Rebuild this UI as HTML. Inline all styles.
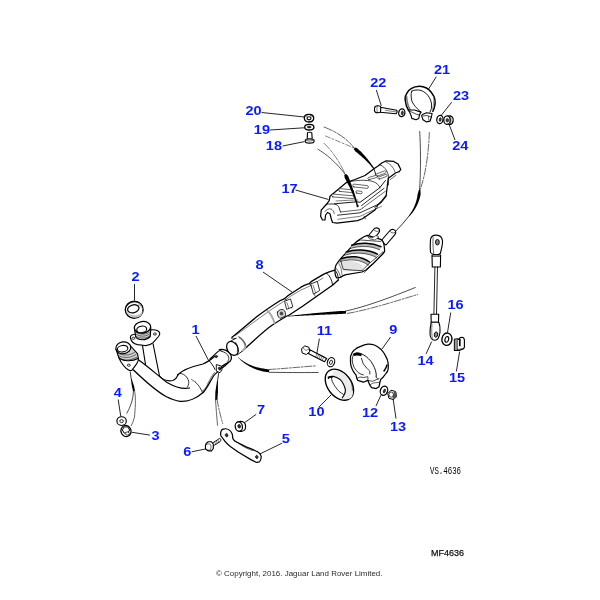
<!DOCTYPE html>
<html><head><meta charset="utf-8"><style>
html,body{margin:0;padding:0;background:#fff;}
svg{display:block;will-change:transform;}
.lb{font-family:"Liberation Sans",sans-serif;font-weight:bold;font-size:12.4px;fill:#0a1afc;text-anchor:middle;}

.mono{font-family:"Liberation Mono",monospace;font-size:10px;fill:#000;}
.cp{font-family:"Liberation Sans",sans-serif;font-size:8.1px;fill:#2a2a2a;}
</style></head><body>
<svg width="600" height="600" viewBox="0 0 600 600">
<rect width="600" height="600" fill="#fff"/>
<path d="M 288.22 316.45 L 289.49 316.38 L 290.77 316.31 L 292.06 316.24 L 293.37 316.18 L 294.68 316.11 L 296.01 316.04 L 297.34 315.97 L 298.69 315.90 L 300.05 315.83 L 301.41 315.76 L 302.79 315.69 L 304.18 315.62 L 305.57 315.56 L 306.98 315.49 L 308.39 315.42 L 309.82 315.35 L 311.25 315.28 L 312.69 315.22 L 314.14 315.15 L 315.60 315.09 L 317.06 315.01 L 318.53 314.94 L 320.01 314.87 L 321.50 314.80 L 322.99 314.73 L 324.49 314.67 L 326.00 314.60 L 327.51 314.53 L 329.03 314.47 L 330.55 314.40 L 332.08 314.34 L 333.62 314.28 L 335.16 314.22 L 336.71 314.16 L 338.26 314.10 L 339.82 314.04 L 341.37 313.90 L 342.93 313.77 L 344.50 313.63 L 346.07 313.50 L 345.93 310.90 L 344.35 310.94 L 342.78 310.97 L 341.21 311.01 L 339.65 311.04 L 338.09 311.16 L 336.54 311.29 L 335.00 311.41 L 333.45 311.53 L 331.92 311.66 L 330.39 311.78 L 328.87 311.91 L 327.35 312.04 L 325.84 312.17 L 324.33 312.30 L 322.84 312.43 L 321.35 312.56 L 319.86 312.69 L 318.38 312.82 L 316.92 312.96 L 315.45 313.09 L 314.00 313.23 L 312.56 313.37 L 311.12 313.51 L 309.69 313.66 L 308.27 313.80 L 306.86 313.94 L 305.46 314.09 L 304.07 314.23 L 302.69 314.37 L 301.32 314.52 L 299.96 314.66 L 298.60 314.80 L 297.26 314.95 L 295.93 315.09 L 294.61 315.24 L 293.30 315.38 L 292.00 315.52 L 290.72 315.67 L 289.44 315.81 L 288.18 315.95 Z" fill="#000" stroke="none"/>
<path d="M 345.5 311.1 C 365 307, 392 297, 415.3 287.5" fill="none" stroke="#000" stroke-width="0.7" stroke-linecap="round" />
<path d="M 347.5 313.4 C 370 309.5, 396 301, 417.7 294.5" fill="none" stroke="#000" stroke-width="0.6" stroke-linecap="round" stroke-dasharray="7 1.5 2 1.5"/>
<path d="M 238.16 357.64 L 238.72 358.23 L 239.29 358.80 L 239.87 359.37 L 240.46 359.92 L 241.06 360.46 L 241.67 360.99 L 242.29 361.52 L 242.92 362.03 L 243.56 362.53 L 244.21 363.02 L 244.88 363.50 L 245.55 363.96 L 246.23 364.42 L 246.93 364.87 L 247.63 365.30 L 248.35 365.73 L 249.08 366.14 L 249.81 366.54 L 250.57 366.93 L 251.33 367.31 L 252.10 367.69 L 252.88 368.05 L 253.67 368.41 L 254.48 368.75 L 255.29 369.08 L 256.12 369.40 L 256.96 369.70 L 257.82 370.00 L 258.68 370.29 L 259.56 370.56 L 260.45 370.82 L 261.35 371.07 L 262.27 371.31 L 263.19 371.53 L 264.14 371.69 L 265.10 371.84 L 266.07 371.97 L 267.06 372.09 L 268.05 372.20 L 269.05 372.29 L 269.35 369.51 L 268.38 369.38 L 267.43 369.25 L 266.49 369.10 L 265.57 368.94 L 264.65 368.77 L 263.75 368.59 L 262.85 368.45 L 261.96 368.31 L 261.08 368.15 L 260.21 367.98 L 259.35 367.80 L 258.50 367.61 L 257.66 367.41 L 256.83 367.19 L 256.01 366.97 L 255.20 366.73 L 254.40 366.48 L 253.61 366.22 L 252.82 365.95 L 252.05 365.66 L 251.29 365.36 L 250.53 365.05 L 249.79 364.72 L 249.05 364.38 L 248.33 364.03 L 247.61 363.67 L 246.90 363.30 L 246.20 362.91 L 245.51 362.51 L 244.83 362.10 L 244.15 361.68 L 243.49 361.25 L 242.83 360.81 L 242.18 360.35 L 241.53 359.88 L 240.90 359.40 L 240.27 358.91 L 239.65 358.40 L 239.04 357.89 L 238.44 357.36 Z" fill="#000" stroke="none"/>
<path d="M 269 369.5 C 285 368.5, 300 367, 316.7 365.8" fill="none" stroke="#000" stroke-width="0.6" stroke-linecap="round" stroke-dasharray="7 1.5 2 1.5"/>
<path d="M 269.5 372.3 C 285 372.6, 300 372.6, 318.3 372.5" fill="none" stroke="#000" stroke-width="0.7" stroke-linecap="round" />
<path d="M 419.7 131.5 C 420.6 145, 421 170, 419.5 191" fill="none" stroke="#000" stroke-width="0.7" stroke-linecap="round" />
<path d="M 429.3 132.5 C 428.8 150, 426 175, 419.5 191" fill="none" stroke="#000" stroke-width="0.6" stroke-linecap="round" stroke-dasharray="7 1.5 2 1.5"/>
<path d="M 418.80 189.95 L 418.64 190.64 L 418.46 191.32 L 418.27 192.00 L 418.08 192.68 L 417.87 193.34 L 417.65 194.00 L 417.57 194.68 L 417.47 195.36 L 417.37 196.04 L 417.25 196.71 L 417.13 197.38 L 416.99 198.05 L 416.84 198.72 L 416.68 199.38 L 416.51 200.05 L 416.33 200.70 L 416.14 201.36 L 415.94 202.01 L 415.73 202.67 L 415.51 203.31 L 415.27 203.96 L 415.03 204.60 L 414.77 205.24 L 414.51 205.87 L 414.23 206.50 L 413.95 207.13 L 413.65 207.75 L 413.35 208.38 L 413.03 208.99 L 412.70 209.60 L 412.36 210.21 L 412.02 210.82 L 411.65 211.41 L 411.28 212.01 L 410.90 212.60 L 410.51 213.18 L 410.10 213.76 L 409.69 214.34 L 409.26 214.91 L 408.82 215.47 L 409.58 216.13 L 410.08 215.59 L 410.56 215.05 L 411.04 214.49 L 411.51 213.94 L 411.96 213.37 L 412.41 212.80 L 412.85 212.22 L 413.27 211.64 L 413.69 211.04 L 414.09 210.45 L 414.49 209.84 L 414.87 209.23 L 415.25 208.62 L 415.61 207.99 L 415.97 207.37 L 416.31 206.73 L 416.64 206.09 L 416.96 205.44 L 417.27 204.79 L 417.57 204.14 L 417.86 203.48 L 418.13 202.81 L 418.40 202.14 L 418.66 201.46 L 418.90 200.78 L 419.14 200.10 L 419.36 199.41 L 419.57 198.71 L 419.77 198.02 L 419.96 197.31 L 420.14 196.61 L 420.31 195.90 L 420.47 195.19 L 420.62 194.47 L 420.61 193.73 L 420.59 192.99 L 420.56 192.25 L 420.52 191.52 L 420.46 190.78 L 420.40 190.05 Z" fill="#000" stroke="none"/>
<path d="M 409.2 215.8 C 405 221, 400.5 226.5, 395.75 231.2" fill="none" stroke="#000" stroke-width="0.8" stroke-linecap="round" />
<path d="M 130.2 372 L 131.25 379" fill="none" stroke="#000" stroke-width="0.8" stroke-linecap="round" />
<path d="M 130.86 379.09 L 130.90 379.40 L 130.95 379.71 L 130.99 380.01 L 131.03 380.32 L 131.08 380.63 L 131.12 380.93 L 131.16 381.24 L 131.21 381.55 L 131.25 381.85 L 131.30 382.16 L 131.34 382.47 L 131.38 382.77 L 131.43 383.08 L 131.47 383.39 L 131.51 383.69 L 131.55 384.00 L 131.60 384.31 L 131.64 384.61 L 131.68 384.92 L 131.72 385.22 L 131.77 385.53 L 131.81 385.84 L 131.85 386.14 L 131.89 386.45 L 131.96 386.74 L 132.04 387.04 L 132.11 387.34 L 132.18 387.64 L 132.26 387.93 L 132.33 388.23 L 132.40 388.53 L 132.47 388.82 L 132.54 389.12 L 132.61 389.42 L 132.68 389.71 L 132.75 390.01 L 132.82 390.31 L 132.89 390.60 L 132.95 390.90 L 133.02 391.20 L 134.98 390.80 L 134.93 390.50 L 134.87 390.20 L 134.81 389.89 L 134.76 389.59 L 134.70 389.29 L 134.64 388.98 L 134.58 388.68 L 134.52 388.38 L 134.46 388.07 L 134.40 387.77 L 134.34 387.47 L 134.28 387.16 L 134.22 386.86 L 134.16 386.56 L 134.10 386.26 L 134.03 385.95 L 133.93 385.66 L 133.84 385.36 L 133.74 385.07 L 133.64 384.78 L 133.54 384.48 L 133.44 384.19 L 133.34 383.89 L 133.24 383.60 L 133.14 383.31 L 133.04 383.01 L 132.94 382.72 L 132.84 382.43 L 132.74 382.13 L 132.64 381.84 L 132.54 381.55 L 132.44 381.25 L 132.34 380.96 L 132.24 380.67 L 132.14 380.37 L 132.04 380.08 L 131.94 379.79 L 131.84 379.49 L 131.74 379.20 L 131.64 378.91 Z" fill="#000" stroke="none"/>
<path d="M 133.4 391 C 133.5 395, 132.3 400.75, 131 404 C 130 407, 128.5 410.5, 126.9 413.2" fill="none" stroke="#000" stroke-width="0.7" stroke-linecap="round" />
<path d="M 134.6 391 C 135.6 396, 135.8 403, 134.5 417 C 133.8 420, 132.5 423.5, 131.25 425.7" fill="none" stroke="#000" stroke-width="0.6" stroke-linecap="round" />
<path d="M 218.7 372.8 L 217.5 381" fill="none" stroke="#000" stroke-width="0.8" stroke-linecap="round" />
<path d="M 217.05 380.96 L 216.98 381.41 L 216.91 381.86 L 216.83 382.30 L 216.76 382.75 L 216.69 383.20 L 216.62 383.65 L 216.54 384.10 L 216.47 384.55 L 216.40 385.00 L 216.33 385.45 L 216.26 385.90 L 216.19 386.35 L 216.12 386.80 L 216.04 387.26 L 215.97 387.71 L 215.91 388.17 L 215.84 388.63 L 215.77 389.09 L 215.70 389.55 L 215.63 390.01 L 215.56 390.47 L 215.50 390.94 L 215.43 391.40 L 215.37 391.87 L 215.35 392.34 L 215.33 392.82 L 215.32 393.29 L 215.30 393.77 L 215.29 394.25 L 215.28 394.73 L 215.27 395.22 L 215.25 395.70 L 215.24 396.19 L 215.24 396.68 L 215.23 397.17 L 215.22 397.67 L 215.21 398.16 L 215.21 398.66 L 215.20 399.16 L 215.20 399.67 L 217.40 399.73 L 217.43 399.23 L 217.46 398.74 L 217.49 398.25 L 217.52 397.76 L 217.55 397.27 L 217.58 396.78 L 217.62 396.30 L 217.65 395.82 L 217.69 395.34 L 217.72 394.86 L 217.76 394.38 L 217.80 393.91 L 217.84 393.44 L 217.88 392.97 L 217.92 392.50 L 217.96 392.03 L 217.96 391.56 L 217.95 391.10 L 217.95 390.63 L 217.94 390.17 L 217.94 389.70 L 217.94 389.24 L 217.93 388.78 L 217.93 388.32 L 217.93 387.86 L 217.93 387.40 L 217.93 386.94 L 217.93 386.49 L 217.93 386.03 L 217.93 385.57 L 217.93 385.12 L 217.93 384.66 L 217.93 384.21 L 217.94 383.76 L 217.94 383.30 L 217.94 382.85 L 217.94 382.40 L 217.94 381.94 L 217.95 381.49 L 217.95 381.04 Z" fill="#000" stroke="none"/>
<path d="M 215.5 399.5 C 216 408, 216.8 417, 217.5 425.3" fill="none" stroke="#000" stroke-width="0.6" stroke-linecap="round" />
<path d="M 217.1 399.5 C 218.5 408, 220.5 416, 222.75 423.6" fill="none" stroke="#000" stroke-width="0.6" stroke-linecap="round" stroke-dasharray="7 1.5 2 1.5"/>
<line x1="196" y1="336" x2="208.7" y2="360.7" stroke="#000" stroke-width="0.85"/>
<line x1="134.5" y1="284" x2="134.5" y2="300.5" stroke="#000" stroke-width="0.85"/>
<line x1="131.3" y1="432.2" x2="149.9" y2="435.1" stroke="#000" stroke-width="0.85"/>
<line x1="118.2" y1="399.5" x2="120.75" y2="416.4" stroke="#000" stroke-width="0.85"/>
<line x1="282.2" y1="443.1" x2="260" y2="453.9" stroke="#000" stroke-width="0.85"/>
<line x1="191.7" y1="451.8" x2="205.3" y2="449" stroke="#000" stroke-width="0.85"/>
<line x1="256.2" y1="414.3" x2="244.8" y2="422.5" stroke="#000" stroke-width="0.85"/>
<line x1="263" y1="272" x2="292" y2="292" stroke="#000" stroke-width="0.85"/>
<line x1="390.6" y1="337" x2="382" y2="349" stroke="#000" stroke-width="0.85"/>
<line x1="319" y1="407" x2="331" y2="395" stroke="#000" stroke-width="0.85"/>
<line x1="319.4" y1="338.6" x2="316.6" y2="355" stroke="#000" stroke-width="0.85"/>
<line x1="376" y1="406" x2="381" y2="395" stroke="#000" stroke-width="0.85"/>
<line x1="396" y1="418.6" x2="393" y2="398" stroke="#000" stroke-width="0.85"/>
<line x1="426.1" y1="353.9" x2="431.6" y2="341.7" stroke="#000" stroke-width="0.85"/>
<line x1="456.4" y1="371.4" x2="459.6" y2="351.6" stroke="#000" stroke-width="0.85"/>
<line x1="450.75" y1="312.5" x2="447.5" y2="332.5" stroke="#000" stroke-width="0.85"/>
<line x1="295.5" y1="190" x2="328.5" y2="199.5" stroke="#000" stroke-width="0.85"/>
<line x1="282.6" y1="146" x2="304.5" y2="141.6" stroke="#000" stroke-width="0.85"/>
<line x1="270" y1="130" x2="304" y2="127.8" stroke="#000" stroke-width="0.85"/>
<line x1="261.6" y1="112.5" x2="304.5" y2="117" stroke="#000" stroke-width="0.85"/>
<line x1="436.3" y1="76.7" x2="428" y2="90" stroke="#000" stroke-width="0.85"/>
<line x1="376.3" y1="90" x2="381.3" y2="105.8" stroke="#000" stroke-width="0.85"/>
<line x1="451.7" y1="102.2" x2="441.3" y2="115.3" stroke="#000" stroke-width="0.85"/>
<line x1="448.7" y1="123.3" x2="455" y2="140" stroke="#000" stroke-width="0.85"/>
<ellipse cx="134.2" cy="309.7" rx="8.9" ry="8.5" transform="rotate(0 134.2 309.7)" fill="#fff" stroke="#000" stroke-width="1.4"/>
<path d="M 126.5 311 C 128 316.5, 133 318, 137 317.6 C 140.5 317, 142.6 314.5, 142.8 311 C 141 313.5, 139 315, 135.5 315.3 C 131.5 315.5, 128.5 314, 126.5 311 Z" fill="#c4c4c4" stroke="none"/>
<path d="M 126 307 C 128 303, 133 301.5, 137 302 C 140 302.5, 142.5 304.5, 142.8 307" fill="none" stroke="#000" stroke-width="0.7" stroke-linejoin="round" stroke-linecap="round" />
<path d="M 138.5 303 C 141 304, 142.5 306.5, 142.5 309.5 C 141.5 307.5, 140 305.5, 138.5 305 Z" fill="#aaa" stroke="none"/>
<ellipse cx="133.3" cy="308.8" rx="5.8" ry="3.9" transform="rotate(-15 133.3 308.8)" fill="#fff" stroke="#000" stroke-width="1.232"/>
<path d="M 130.3 337.7 C 130.5 335.5, 132 334.5, 133.8 334.5 L 150.3 329.9 C 153 329.5, 156 329.8, 157.7 330.8 C 160 332, 160.5 334, 158.5 336.5 L 153.1 342.7 C 150 345, 147 345.8, 144.8 345.5 L 137.5 344.6 C 134 344, 131 341, 130.3 337.7 Z" fill="#fff" stroke="#000" stroke-width="1.12" stroke-linejoin="round" stroke-linecap="round" />
<ellipse cx="133.4" cy="338.3" rx="1.5" ry="1.1" transform="rotate(0 133.4 338.3)" fill="#fff" stroke="#000" stroke-width="0.8"/>
<ellipse cx="154.9" cy="334" rx="1.5" ry="1.1" transform="rotate(0 154.9 334)" fill="#fff" stroke="#000" stroke-width="0.8"/>
<path d="M 134.3 327.5 L 135.7 337 C 138 340.5, 146 341, 150.3 336.5 L 150.8 327.5 Z" fill="#d0d0d0" stroke="#000" stroke-width="1.12" stroke-linejoin="round" stroke-linecap="round" />
<path d="M 135.5 332 C 140 335, 146 335, 150.5 331.5" fill="none" stroke="#000" stroke-width="0.5" stroke-linejoin="round" stroke-linecap="round" />
<path d="M 135.5 334 C 140 337, 146 337, 150.5 333.5" fill="none" stroke="#000" stroke-width="0.5" stroke-linejoin="round" stroke-linecap="round" />
<path d="M 135.5 336 C 140 339, 146 339, 150.5 335.5" fill="none" stroke="#000" stroke-width="0.5" stroke-linejoin="round" stroke-linecap="round" />
<ellipse cx="142.5" cy="327.3" rx="8.2" ry="5.8" transform="rotate(-8 142.5 327.3)" fill="#fff" stroke="#000" stroke-width="1.232"/>
<ellipse cx="141.7" cy="329.4" rx="5.0" ry="3.2" transform="rotate(-10 141.7 329.4)" fill="#fff" stroke="#000" stroke-width="1.12"/>
<path d="M 142.5 345.5 L 145.5 364.5" fill="none" stroke="#000" stroke-width="1.12" stroke-linejoin="round" stroke-linecap="round" />
<path d="M 153.1 344 L 159.5 376 C 163 380, 168 381.5, 173 380.5 C 175 379.5, 177 377.5, 178 375" fill="none" stroke="#000" stroke-width="1.12" stroke-linejoin="round" stroke-linecap="round" />
<path d="M 138 359.5 C 148 366.5, 158 375.5, 167 382.5 C 175 387, 183 389.5, 189.5 388" fill="none" stroke="#000" stroke-width="1.232" stroke-linejoin="round" stroke-linecap="round" />
<path d="M 133.5 370 C 146 382, 156 391, 166 396.5 C 171 399, 175 400.8, 180 401.3 C 188 402, 197 398, 203 392.5" fill="none" stroke="#000" stroke-width="1.344" stroke-linejoin="round" stroke-linecap="round" />
<path d="M 177.5 375 C 183 369, 192 366.5, 203 364 C 209 361.5, 215 356.5, 221 350.5" fill="none" stroke="#000" stroke-width="1.232" stroke-linejoin="round" stroke-linecap="round" />
<path d="M 228.5 362.5 C 223 368, 216.5 372, 213.5 376 C 209 383.5, 206.5 389.5, 203 392.5" fill="none" stroke="#000" stroke-width="1.232" stroke-linejoin="round" stroke-linecap="round" />
<path d="M 179.3 373.3 C 182 373.3, 185 374.5, 187.3 378 C 188.5 380, 189 382, 188.7 383.3 C 188.5 385, 188 386.3, 187.3 387.3" fill="none" stroke="#000" stroke-width="0.8" stroke-linejoin="round" stroke-linecap="round" />
<path d="M 195.3 382 C 197 383.5, 199 386, 200.2 388 L 202 391.3" fill="none" stroke="#000" stroke-width="0.8" stroke-linejoin="round" stroke-linecap="round" />
<path d="M 191.5 379.5 L 195.3 382" fill="none" stroke="#000" stroke-width="0.6" stroke-linejoin="round" stroke-linecap="round" />
<path d="M 214.5 372.5 C 211 377, 208.5 382, 206.5 386.5 C 205 389, 203.5 390.5, 202 391.3" fill="none" stroke="#000" stroke-width="0.6" stroke-linejoin="round" stroke-linecap="round" />
<path d="M 209.5 361.2 C 211.5 363.5, 213.5 366, 215 369.5" fill="none" stroke="#000" stroke-width="0.9" stroke-linejoin="round" stroke-linecap="round" />
<path d="M 216.7 364.7 L 221.3 366 L 222 370 L 220 372.7 L 216.7 371.3 Z" fill="#fff" stroke="#000" stroke-width="0.9" stroke-linejoin="round" stroke-linecap="round" />
<ellipse cx="219.3" cy="368.3" rx="1.0" ry="1.3" transform="rotate(0 219.3 368.3)" fill="#333" stroke="#000" stroke-width="0.5"/>
<path d="M 118.7 357.4 L 121 362 C 123 365, 125.5 368, 127.4 369.3 C 129 370.5, 131 370.8, 132 370.2 L 136.6 363.8 C 138 362, 138.6 360, 138.4 358.3 Z" fill="#fff" stroke="#000" stroke-width="1.12" stroke-linejoin="round" stroke-linecap="round" />
<ellipse cx="128.8" cy="365.2" rx="1.5" ry="1.1" transform="rotate(0 128.8 365.2)" fill="#fff" stroke="#000" stroke-width="0.8"/>
<path d="M 116 349 L 118.7 357.4 C 122 361.5, 132 362, 138.4 358.3 L 137.5 353.7 L 130.6 346 Z" fill="#d0d0d0" stroke="#000" stroke-width="1.12" stroke-linejoin="round" stroke-linecap="round" />
<path d="M 117.0 352.5 C 122 356.0, 130 356.0, 135 352.0" fill="none" stroke="#000" stroke-width="0.5" stroke-linejoin="round" stroke-linecap="round" />
<path d="M 117.8 355 C 122 358.5, 130 358.5, 136 354.5" fill="none" stroke="#000" stroke-width="0.5" stroke-linejoin="round" stroke-linecap="round" />
<path d="M 118.6 357.5 C 122 361.0, 130 361.0, 137 357.0" fill="none" stroke="#000" stroke-width="0.5" stroke-linejoin="round" stroke-linecap="round" />
<ellipse cx="123.3" cy="347.8" rx="7.5" ry="5.9" transform="rotate(-8 123.3 347.8)" fill="#fff" stroke="#000" stroke-width="1.232"/>
<ellipse cx="122.6" cy="348.7" rx="5.3" ry="3.2" transform="rotate(-10 122.6 348.7)" fill="#fff" stroke="#000" stroke-width="1.12"/>
<path d="M 219.3 349.6 C 223 348.6, 228.2 350.5, 230.6 354.5 C 232.2 357.5, 231.6 361, 228.1 362.4 L 223 366 L 219 363 L 214.2 361.5 L 216 352.5 Z" fill="#fff" stroke="none"/>
<path d="M 221 350.5 C 219.5 350.5, 218 351, 217.6 351.9 L 210 358.9" fill="none" stroke="#000" stroke-width="1.12" stroke-linejoin="round" stroke-linecap="round" />
<path d="M 219.3 349.6 C 223 348.6, 228.2 350.5, 230.6 354.5 C 232.2 357.5, 231.6 361, 228.1 362.4 C 226 364, 223.5 365, 221.7 366.5 L 219.9 370" fill="none" stroke="#000" stroke-width="1.232" stroke-linejoin="round" stroke-linecap="round" />
<path d="M 221.1 351.3 C 224 351.5, 227.5 353.5, 228.7 357 C 229.2 359, 228.5 360.5, 227.5 361.3" fill="none" stroke="#000" stroke-width="0.8" stroke-linejoin="round" stroke-linecap="round" />
<ellipse cx="216.4" cy="356.6" rx="1.3" ry="1.0" transform="rotate(-20 216.4 356.6)" fill="#333" stroke="#000" stroke-width="0.6"/>
<path d="M 232 337.25 C 240 331, 250 322, 258 315.7 C 266 310, 274 304.5, 280.7 300.3 C 282 300, 283.5 299.5, 285.3 298 C 286.5 297, 287.5 296, 289.3 294.8 L 301 287.2 C 304 285.5, 307 284.5, 309.2 283.6 C 310.2 283, 310.8 282, 311.5 281.4 L 324.3 273.8 C 328 272.2, 331 271.2, 334.8 270.1" fill="none" stroke="#000" stroke-width="1.344" stroke-linejoin="round" stroke-linecap="round" />
<path d="M 235.5 335.5 C 250 325, 270 310, 283.5 301.5 C 286 300, 288 298, 290 296.5 L 301 290 L 310 286 L 323 278" fill="none" stroke="#000" stroke-width="0.5" stroke-linejoin="round" stroke-linecap="round" />
<path d="M 242.5 350.7 C 254 340.5, 265 330, 272 325.3 C 280 320, 286 316.5, 289.3 315 L 303.3 305.7 C 310 301, 320 294, 326.7 289.3 L 332.5 285.25 L 338.3 280" fill="none" stroke="#000" stroke-width="1.344" stroke-linejoin="round" stroke-linecap="round" />
<path d="M 267.5 311 C 270.5 313.5, 273 318, 274.5 323" fill="none" stroke="#aaa" stroke-width="2.016" stroke-linejoin="round" stroke-linecap="round" />
<path d="M 284.7 298.7 C 288 301, 290.5 304, 291.7 308" fill="none" stroke="#000" stroke-width="0.8" stroke-linejoin="round" stroke-linecap="round" />
<path d="M 309.2 283.6 C 312 286, 314 290, 315 296" fill="none" stroke="#000" stroke-width="0.6" stroke-linejoin="round" stroke-linecap="round" />
<path d="M 326.7 273.2 C 330 276, 332 280, 332.5 284.7" fill="none" stroke="#000" stroke-width="0.9" stroke-linejoin="round" stroke-linecap="round" />
<path d="M 311 283.8 L 317.3 281.4 L 319.7 290.5 L 313.8 294 Z" fill="#fff" stroke="#000" stroke-width="0.8" stroke-linejoin="round" stroke-linecap="round" />
<path d="M 313 285 L 315.5 292.5" fill="none" stroke="#000" stroke-width="0.5" stroke-linejoin="round" stroke-linecap="round" />
<path d="M 284.9 301.2 L 290.5 298.9 L 292.8 306.8 L 287 309.2 Z" fill="#fff" stroke="#000" stroke-width="0.8" stroke-linejoin="round" stroke-linecap="round" />
<path d="M 286.8 302.5 L 288.8 308" fill="none" stroke="#000" stroke-width="0.5" stroke-linejoin="round" stroke-linecap="round" />
<path d="M 277.5 312 C 278.5 309.8, 281.5 309, 283.5 309.8 C 285.5 310.8, 285.8 314, 285.3 316 L 280 318.5 C 278 317, 277 314.5, 277.5 312 Z" fill="#d8d8d8" stroke="#000" stroke-width="0.8" stroke-linejoin="round" stroke-linecap="round" />
<ellipse cx="281.5" cy="313.5" rx="1.4" ry="1.6" transform="rotate(0 281.5 313.5)" fill="#555" stroke="#000" stroke-width="0.5"/>
<path d="M 230.4 341.4 L 236 338 L 242.5 346.5 L 238.6 351.3 Z" fill="#fff" stroke="none"/>
<path d="M 230.4 341.4 C 232 340.2, 234 339.3, 236 338.3" fill="none" stroke="#000" stroke-width="0.9" stroke-linejoin="round" stroke-linecap="round" />
<path d="M 237.4 354.8 C 239 353.5, 240.5 352.5, 242.5 351" fill="none" stroke="#000" stroke-width="0.9" stroke-linejoin="round" stroke-linecap="round" />
<ellipse cx="232.5" cy="348.4" rx="5.3" ry="7.4" transform="rotate(-30 232.5 348.4)" fill="#fff" stroke="#000" stroke-width="1.232"/>
<path d="M 235.7 342.5 C 237.5 344.5, 238 348, 237.3 352" fill="none" stroke="#000" stroke-width="0.6" stroke-linejoin="round" stroke-linecap="round" />
<path d="M 239.5 337.5 C 242.5 339.5, 244.5 342, 245.2 345 C 245.6 347.5, 244.5 349.5, 242.8 350.5" fill="none" stroke="#aaa" stroke-width="2.016" stroke-linejoin="round" stroke-linecap="round" />
<path d="M 238.7 336.7 C 242 338.5, 244.5 341.5, 245.5 345" fill="none" stroke="#000" stroke-width="0.6" stroke-linejoin="round" stroke-linecap="round" />
<path d="M 231.4 338.4 L 236 338.4" fill="none" stroke="#000" stroke-width="0.6" stroke-linejoin="round" stroke-linecap="round" />
<path d="M 366.5 238 L 373.5 229.5 C 375.5 227, 379.5 227.5, 379.6 230.5 C 379.7 231.5, 379 232.5, 378.5 233.2 L 372.5 240.5 Z" fill="#fff" stroke="#000" stroke-width="1.12" stroke-linejoin="round" stroke-linecap="round" />
<path d="M 380.5 241.5 L 389.5 231 C 391.5 228.5, 395.5 229, 395.8 232 C 395.9 233, 395.3 234, 394.7 234.8 L 386 245 Z" fill="#fff" stroke="#000" stroke-width="1.12" stroke-linejoin="round" stroke-linecap="round" />
<path d="M 373.8 229.6 C 375 231.5, 377 232, 378.6 231" fill="none" stroke="#000" stroke-width="0.6" stroke-linejoin="round" stroke-linecap="round" />
<path d="M 389.8 231.2 C 391 233, 393.5 233.5, 395 232.5" fill="none" stroke="#000" stroke-width="0.6" stroke-linejoin="round" stroke-linecap="round" />
<path d="M 336 265 C 338 262, 339 260, 340.7 258.7 L 352.7 245.3 C 356 242, 358 240, 360.7 238.7 C 363 237, 365 236, 367.3 235.3 L 380.7 239.3 C 383 241, 384 243, 384 244.7 L 384.7 250.7 C 384.5 252, 383.5 253, 382.7 254 L 374 262.7 C 371 265.5, 368.5 268, 366 270 L 362 272 L 346 274.7 C 343.5 275.5, 341.5 276.5, 340.7 277.3 L 336.7 278 C 334.5 275, 334.5 269, 336 265 Z" fill="#fff" stroke="#000" stroke-width="1.232" stroke-linejoin="round" stroke-linecap="round" />
<path d="M 352.7 245.3 C 356 242, 358 241, 360.7 240 L 380.7 241.5" fill="none" stroke="#000" stroke-width="0.7" stroke-linejoin="round" stroke-linecap="round" />
<path d="M 368 236.5 L 372 238 L 376 235.5 L 379 237 L 375 240 L 370 239 Z" fill="#fff" stroke="#000" stroke-width="0.6" stroke-linejoin="round" stroke-linecap="round" />
<path d="M 351.7 245.3 C 360 242.3, 372 242.5, 381 246.7 L 379.8 249.89999999999998 C 371.5 245.7, 359.5 245.5, 350.2 248.5 Z" fill="#b8b8b8" stroke="none"/>
<path d="M 351.7 245.3 C 360 242.3, 372 242.5, 381 246.7" fill="none" stroke="#000" stroke-width="1.456" stroke-linejoin="round" stroke-linecap="round" />
<path d="M 350.2 248.5 C 359.5 245.5, 371.5 245.7, 379.8 249.89999999999998" fill="none" stroke="#000" stroke-width="0.6" stroke-linejoin="round" stroke-linecap="round" />
<path d="M 346.3 252 C 355 248.8, 368 249.2, 377.5 254.2 L 376.3 257.4 C 367.5 252.39999999999998, 354.5 252.0, 344.8 255.2 Z" fill="#b8b8b8" stroke="none"/>
<path d="M 346.3 252 C 355 248.8, 368 249.2, 377.5 254.2" fill="none" stroke="#000" stroke-width="1.456" stroke-linejoin="round" stroke-linecap="round" />
<path d="M 344.8 255.2 C 354.5 252.0, 367.5 252.39999999999998, 376.3 257.4" fill="none" stroke="#000" stroke-width="0.6" stroke-linejoin="round" stroke-linecap="round" />
<path d="M 341 258.7 C 350 255.3, 361 256, 369.5 262 L 368.3 265.2 C 360.5 259.2, 349.5 258.5, 339.5 261.9 Z" fill="#b8b8b8" stroke="none"/>
<path d="M 341 258.7 C 350 255.3, 361 256, 369.5 262" fill="none" stroke="#000" stroke-width="1.456" stroke-linejoin="round" stroke-linecap="round" />
<path d="M 339.5 261.9 C 349.5 258.5, 360.5 259.2, 368.3 265.2" fill="none" stroke="#000" stroke-width="0.6" stroke-linejoin="round" stroke-linecap="round" />
<path d="M 339.5 262.5 C 348 260, 356 260.5, 362.5 265.5 L 362.3 270.7 L 343 271.5 Z" fill="#e2e2e2" stroke="none"/>
<path d="M 340.7 260 C 341.5 264, 342.5 267, 343.3 269.3 C 350 270, 356 270.5, 362 270.7" fill="none" stroke="#000" stroke-width="0.7" stroke-linejoin="round" stroke-linecap="round" />
<path d="M 362 270.7 C 366 266, 372 261, 376 258 L 382.7 252" fill="none" stroke="#000" stroke-width="0.7" stroke-linejoin="round" stroke-linecap="round" />
<path d="M 364 273 L 384.5 252.5" fill="none" stroke="#000" stroke-width="0.5" stroke-linejoin="round" stroke-linecap="round" />
<path d="M 338.5 263 L 341 268 L 342 274.5" fill="none" stroke="#000" stroke-width="0.5" stroke-linejoin="round" stroke-linecap="round" />
<path d="M 334.8 270.1 C 336.5 271.5, 338.5 275, 338.3 280" fill="none" stroke="#000" stroke-width="0.9" stroke-linejoin="round" stroke-linecap="round" />
<path d="M 336.5 268.5 C 338.5 271.5, 340 274.5, 340.5 277" fill="none" stroke="#000" stroke-width="0.6" stroke-linejoin="round" stroke-linecap="round" />
<path d="M 323.1 208.1 L 321.25 210 L 320.6 216.25 L 322.5 220 L 325 220 L 325.6 215 L 327.5 212.5 L 330 213.75 L 331.25 218.75 L 332.5 222.5 L 336.9 223.1 L 357.5 220.6 L 362.5 218.75 L 375 210 L 377.5 205.25 L 381.8 200.9 L 386.2 195.5 L 387.3 185.75 L 388.3 178.2 L 395.9 172.75 L 399.2 171.7 L 400.8 169.5 L 398.1 164.1 L 393.75 161.4 L 386.2 160.8 L 381.8 163 L 378 166 L 375 168 L 365 175.5 L 355 179.5 L 346.7 182.3 L 330 196.3 L 329.3 200.3 L 327.5 203 L 323.1 208.1 Z" fill="#fff" stroke="#000" stroke-width="1.232" stroke-linejoin="round" stroke-linecap="round" />
<path d="M 323.25 207.5 C 325 205, 327 204, 328.5 204 L 334.5 204 C 337 204.5, 338.5 206, 339 207.5 L 340.5 212" fill="none" stroke="#000" stroke-width="0.8" stroke-linejoin="round" stroke-linecap="round" />
<path d="M 325 211.5 C 326.5 209, 329 208.5, 331 209 C 332.5 209.5, 333.5 211, 334.3 213.5" fill="none" stroke="#000" stroke-width="0.6" stroke-linejoin="round" stroke-linecap="round" />
<path d="M 334.5 203.8 L 357 201.8 L 360 202.3 L 379.5 188 L 385.5 180.5" fill="none" stroke="#000" stroke-width="0.9" stroke-linejoin="round" stroke-linecap="round" />
<path d="M 336 201 C 345 200.5, 352 200, 358 200" fill="none" stroke="#000" stroke-width="0.5" stroke-linejoin="round" stroke-linecap="round" />
<path d="M 347 182.5 C 355 180, 366 179.5, 373 181.5 C 377 183, 379.5 185.5, 380 188" fill="none" stroke="#000" stroke-width="0.7" stroke-linejoin="round" stroke-linecap="round" />
<path d="M 361.5 205.6 L 384 188.3" fill="none" stroke="#000" stroke-width="0.8" stroke-linejoin="round" stroke-linecap="round" />
<path d="M 362.3 208.2 L 385.5 191.2" fill="none" stroke="#000" stroke-width="0.6" stroke-linejoin="round" stroke-linecap="round" />
<path d="M 340.5 212 L 360 209.8 L 362.3 208.2" fill="none" stroke="#000" stroke-width="0.6" stroke-linejoin="round" stroke-linecap="round" />
<path d="M 337.5 215.2 L 360 212.8 L 381 203 L 386.5 196" fill="none" stroke="#000" stroke-width="0.8" stroke-linejoin="round" stroke-linecap="round" />
<path d="M 337.8 219.3 L 360 216.3 L 381.5 206.3" fill="none" stroke="#000" stroke-width="0.5" stroke-linejoin="round" stroke-linecap="round" />
<path d="M 364 216 L 365.5 219" fill="none" stroke="#000" stroke-width="0.6" stroke-linejoin="round" stroke-linecap="round" />
<ellipse cx="376" cy="207.5" rx="1.2" ry="1.0" transform="rotate(0 376 207.5)" fill="#fff" stroke="#000" stroke-width="0.7"/>
<path d="M 379.5 164.75 C 384 166, 387 170, 388.3 175 L 388.5 185" fill="none" stroke="#000" stroke-width="0.7" stroke-linejoin="round" stroke-linecap="round" />
<path d="M 385.5 161.75 C 390 163.5, 393.5 167, 395 172" fill="none" stroke="#000" stroke-width="0.6" stroke-linejoin="round" stroke-linecap="round" />
<path d="M 390 179.75 L 396 175.25" fill="none" stroke="#000" stroke-width="0.6" stroke-linejoin="round" stroke-linecap="round" />
<path d="M 353.84 186.89 L 366.84 188.39 A 1.4 1.4 0 0 0 367.16 185.61 L 354.16 184.11 A 1.4 1.4 0 0 0 353.84 186.89 Z" fill="#fff" stroke="#000" stroke-width="0.6" stroke-linejoin="round" stroke-linecap="round" />
<path d="M 339.86 191.39 L 351.86 192.59 A 1.4 1.4 0 0 0 352.14 189.81 L 340.14 188.61 A 1.4 1.4 0 0 0 339.86 191.39 Z" fill="#fff" stroke="#000" stroke-width="0.6" stroke-linejoin="round" stroke-linecap="round" />
<path d="M 356.85 193.19 L 360.85 193.69 A 1.2 1.2 0 0 0 361.15 191.31 L 357.15 190.81 A 1.2 1.2 0 0 0 356.85 193.19 Z" fill="#fff" stroke="#000" stroke-width="0.6" stroke-linejoin="round" stroke-linecap="round" />
<path d="M 332.88 196.89 L 352.88 198.59 A 1.4 1.4 0 0 0 353.12 195.81 L 333.12 194.11 A 1.4 1.4 0 0 0 332.88 196.89 Z" fill="#fff" stroke="#000" stroke-width="0.6" stroke-linejoin="round" stroke-linecap="round" />
<path d="M 377.42 176.12 L 385.42 173.12 A 1.2 1.2 0 0 0 384.58 170.88 L 376.58 173.88 A 1.2 1.2 0 0 0 377.42 176.12 Z" fill="#fff" stroke="#000" stroke-width="0.6" stroke-linejoin="round" stroke-linecap="round" />
<path d="M 379.37 179.04 L 386.37 176.54 A 1.1 1.1 0 0 0 385.63 174.46 L 378.63 176.96 A 1.1 1.1 0 0 0 379.37 179.04 Z" fill="#fff" stroke="#000" stroke-width="0.6" stroke-linejoin="round" stroke-linecap="round" />
<path d="M 369.30 179.56 L 376.30 177.56 A 1.1 1.1 0 0 0 375.70 175.44 L 368.70 177.44 A 1.1 1.1 0 0 0 369.30 179.56 Z" fill="#fff" stroke="#000" stroke-width="0.6" stroke-linejoin="round" stroke-linecap="round" />
<path d="M 324 127 C 336 131.5, 347 138.5, 354.5 148.3" fill="none" stroke="#333" stroke-width="0.75" stroke-linecap="round" stroke-dasharray="9 1.5 3 1.5"/>
<path d="M 325.5 136 C 335 140, 345 144, 354.5 148.3" fill="none" stroke="#444" stroke-width="0.65" stroke-linecap="round" stroke-dasharray="5 2 2 2"/>
<path d="M 353.81 149.15 L 354.19 149.75 L 354.57 150.35 L 354.94 150.95 L 355.44 151.40 L 355.98 151.82 L 356.51 152.25 L 357.04 152.68 L 357.58 153.11 L 358.11 153.55 L 358.63 154.00 L 359.16 154.44 L 359.69 154.89 L 360.21 155.35 L 360.73 155.81 L 361.26 156.27 L 361.79 156.73 L 362.31 157.19 L 362.83 157.66 L 363.35 158.13 L 363.86 158.60 L 364.37 159.08 L 364.88 159.56 L 365.39 160.05 L 365.89 160.54 L 366.39 161.03 L 366.88 161.53 L 367.37 162.03 L 367.86 162.53 L 368.34 163.03 L 368.82 163.54 L 369.29 164.05 L 369.76 164.57 L 370.21 165.09 L 370.66 165.61 L 371.11 166.14 L 371.55 166.67 L 371.98 167.20 L 372.41 167.74 L 372.83 168.27 L 373.25 168.81 L 374.15 168.19 L 373.78 167.60 L 373.40 167.02 L 373.02 166.44 L 372.63 165.86 L 372.23 165.28 L 371.83 164.71 L 371.42 164.14 L 371.00 163.56 L 370.59 162.99 L 370.17 162.42 L 369.74 161.85 L 369.31 161.28 L 368.87 160.72 L 368.43 160.16 L 367.98 159.60 L 367.53 159.04 L 367.08 158.49 L 366.62 157.94 L 366.15 157.39 L 365.69 156.85 L 365.22 156.30 L 364.74 155.77 L 364.26 155.23 L 363.78 154.70 L 363.30 154.17 L 362.81 153.65 L 362.31 153.13 L 361.82 152.62 L 361.31 152.12 L 360.81 151.62 L 360.30 151.12 L 359.80 150.63 L 359.29 150.14 L 358.78 149.65 L 358.26 149.17 L 357.75 148.70 L 357.21 148.26 L 356.53 147.98 L 355.86 147.71 L 355.19 147.45 Z" fill="#000" stroke="none"/>
<path d="M 373.7 168.5 C 374.6 170.5, 375.3 172.5, 375.7 174.7" fill="none" stroke="#000" stroke-width="0.9" stroke-linecap="round" />
<path d="M 318 149.25 C 326 154, 336 162, 345.3 174.5" fill="none" stroke="#222" stroke-width="0.75" stroke-linecap="round" />
<path d="M 324 143.25 C 331 150, 339 160, 345.3 174.5" fill="none" stroke="#444" stroke-width="0.65" stroke-linecap="round" stroke-dasharray="8 1.5 3 1.5"/>
<path d="M 344.31 174.97 L 344.40 175.80 L 344.50 176.62 L 344.59 177.45 L 344.91 178.18 L 345.29 178.89 L 345.67 179.60 L 346.04 180.31 L 346.41 181.02 L 346.79 181.74 L 347.16 182.46 L 347.53 183.19 L 347.90 183.91 L 348.27 184.65 L 348.63 185.38 L 349.00 186.12 L 349.36 186.86 L 349.71 187.60 L 350.05 188.35 L 350.39 189.11 L 350.73 189.86 L 351.07 190.62 L 351.40 191.38 L 351.73 192.15 L 352.06 192.91 L 352.39 193.68 L 352.71 194.45 L 353.03 195.22 L 353.34 196.00 L 353.64 196.78 L 353.94 197.56 L 354.24 198.34 L 354.53 199.13 L 354.81 199.92 L 355.09 200.71 L 355.37 201.50 L 355.64 202.29 L 355.91 203.08 L 356.17 203.88 L 356.42 204.68 L 356.67 205.47 L 357.93 205.13 L 357.72 204.31 L 357.51 203.49 L 357.29 202.67 L 357.07 201.85 L 356.85 201.03 L 356.62 200.22 L 356.38 199.41 L 356.14 198.59 L 355.89 197.78 L 355.64 196.97 L 355.39 196.17 L 355.13 195.36 L 354.88 194.55 L 354.62 193.75 L 354.35 192.95 L 354.09 192.14 L 353.82 191.35 L 353.55 190.55 L 353.27 189.75 L 352.99 188.96 L 352.71 188.17 L 352.43 187.38 L 352.14 186.60 L 351.85 185.81 L 351.57 185.03 L 351.29 184.25 L 351.00 183.47 L 350.72 182.69 L 350.43 181.91 L 350.14 181.14 L 349.85 180.37 L 349.56 179.61 L 349.27 178.84 L 348.97 178.08 L 348.68 177.33 L 348.38 176.58 L 348.03 175.85 L 347.45 175.24 L 346.87 174.63 L 346.29 174.03 Z" fill="#000" stroke="none"/>
<ellipse cx="357.6" cy="206" rx="0.9" ry="0.9" transform="rotate(0 357.6 206)" fill="#000" stroke="#000" stroke-width="0.5"/>
<path d="M 304.3 118 C 304 115.5, 306 114.3, 308.8 114.3 C 311.8 114.3, 313.7 115.8, 313.7 118 C 313.7 120.5, 311.5 122, 308.8 122 C 306 122, 304.5 120.5, 304.3 118 Z" fill="#fff" stroke="#000" stroke-width="1.344" stroke-linejoin="round" stroke-linecap="round" />
<path d="M 305.5 117 L 307 115.5 M 310.5 115.2 L 312.3 116.5" fill="none" stroke="#000" stroke-width="0.7" stroke-linejoin="round" stroke-linecap="round" />
<ellipse cx="309" cy="118.3" rx="2.0" ry="1.6" transform="rotate(0 309 118.3)" fill="#fff" stroke="#000" stroke-width="1.12"/>
<ellipse cx="309.3" cy="127.2" rx="4.6" ry="2.8" transform="rotate(0 309.3 127.2)" fill="#fff" stroke="#000" stroke-width="1.344"/>
<ellipse cx="309.2" cy="127.1" rx="2.0" ry="0.8" transform="rotate(0 309.2 127.1)" fill="#222" stroke="#000" stroke-width="0.6"/>
<path d="M 307.5 132.8 C 307.5 132, 311.8 132, 311.8 132.8 L 312.2 139 L 307.2 139 Z" fill="#fff" stroke="#000" stroke-width="1.12" stroke-linejoin="round" stroke-linecap="round" />
<path d="M 305.3 140 C 305.3 138.6, 314 138.6, 314 140 L 314 141.8 C 314 143.6, 305.3 143.6, 305.3 141.8 Z" fill="#fff" stroke="#000" stroke-width="1.12" stroke-linejoin="round" stroke-linecap="round" />
<path d="M 305.5 140.2 C 307 141.3, 312 141.3, 313.8 140.2" fill="none" stroke="#000" stroke-width="0.6" stroke-linejoin="round" stroke-linecap="round" />
<path d="M 408.6 110.7 C 407 108, 405.5 104, 405.1 99.5 C 405 96, 405.8 94.5, 406.9 93.2 C 408 91, 409.5 89.5, 411.1 88.6 C 413.5 87, 416.5 86.2, 419.5 86.2 C 422 86.2, 424.5 87, 426.5 88 C 428.5 89, 430 90.5, 431.4 92.5 C 433 94.5, 434.3 97, 434.9 99.5 C 435.2 101.5, 435.2 103.5, 434.9 105.1 C 434.5 107.5, 433.8 109.5, 432.8 111.4" fill="none" stroke="#000" stroke-width="1.456" stroke-linejoin="round" stroke-linecap="round" />
<path d="M 411.8 91.1 C 413 90.5, 414.5 90, 416 90 C 417.5 89.9, 419.2 90, 420.9 90.4 C 422.7 91, 424.3 92, 425.8 93.2 C 427.2 94.5, 428.4 95.9, 429.3 97.4 C 430.3 99.2, 431 101, 431.4 103 C 431.6 105, 431.6 107, 431.4 108.6 L 430 112.1" fill="none" stroke="#000" stroke-width="0.9" stroke-linejoin="round" stroke-linecap="round" />
<path d="M 411.8 91.1 C 411.2 92.5, 411 94.3, 411.1 96 C 411.2 98, 411.5 100, 412.1 101.6 C 413 103.5, 414 105, 415.3 106.5 C 416.6 108, 418 109.5, 419.5 110.7 L 421.2 112.1" fill="none" stroke="#000" stroke-width="0.9" stroke-linejoin="round" stroke-linecap="round" />
<path d="M 406.5 96 C 406.8 101, 408 106, 410 109.5" fill="none" stroke="#777" stroke-width="1.568" stroke-linejoin="round" stroke-linecap="round" />
<path d="M 433.5 97 C 434 101, 433.8 105, 432.5 109" fill="none" stroke="#888" stroke-width="0.9" stroke-linejoin="round" stroke-linecap="round" />
<path d="M 408.6 110 L 411.1 115.6 L 411.8 118.4 L 416 119.8 L 418.8 118.4 L 419.5 114.9 L 420.9 112.1 L 414.6 110 Z" fill="#fff" stroke="#000" stroke-width="1.12" stroke-linejoin="round" stroke-linecap="round" />
<path d="M 410.5 111.5 L 417 114.5 L 419.5 114.9" fill="none" stroke="#000" stroke-width="0.7" stroke-linejoin="round" stroke-linecap="round" />
<path d="M 421.6 115.6 L 423 119.8 L 426.5 121.9 L 430 121.2 L 431.4 117 L 432.1 113.5 L 426.5 112.8 L 423 114.2 Z" fill="#fff" stroke="#000" stroke-width="1.12" stroke-linejoin="round" stroke-linecap="round" />
<path d="M 423 116 L 427 115.5 L 431.4 117" fill="none" stroke="#000" stroke-width="0.7" stroke-linejoin="round" stroke-linecap="round" />
<path d="M 428.5 116.5 L 429 121.3" fill="none" stroke="#000" stroke-width="0.6" stroke-linejoin="round" stroke-linecap="round" />
<path d="M 380.3 107.2 L 396.7 110.3 C 397.4 111, 397.3 113, 396 113.7 L 380.1 112.3 Z" fill="#fff" stroke="#000" stroke-width="1.12" stroke-linejoin="round" stroke-linecap="round" />
<path d="M 385.3 110.3 L 396.5 112" fill="none" stroke="#000" stroke-width="0.5" stroke-linejoin="round" stroke-linecap="round" />
<path d="M 374.6 108 C 374.6 106.3, 376.3 105.7, 377.8 105.7 C 379.4 105.7, 380.7 106.5, 380.8 107.6 L 380.6 111.8 C 379.5 113, 376.5 113.1, 375.1 112 C 374.4 111, 374.3 109.5, 374.6 108 Z" fill="#fff" stroke="#000" stroke-width="1.12" stroke-linejoin="round" stroke-linecap="round" />
<path d="M 377.5 106.3 C 376.6 108, 376.6 110.5, 377.5 112.5" fill="none" stroke="#000" stroke-width="0.5" stroke-linejoin="round" stroke-linecap="round" />
<ellipse cx="401.8" cy="112.8" rx="3.1" ry="3.9" transform="rotate(10 401.8 112.8)" fill="#fff" stroke="#000" stroke-width="1.232"/>
<ellipse cx="402.3" cy="113" rx="1.0" ry="2.0" transform="rotate(10 402.3 113)" fill="#444" stroke="#000" stroke-width="0.6"/>
<ellipse cx="439.9" cy="119.5" rx="3.1" ry="4.2" transform="rotate(10 439.9 119.5)" fill="#fff" stroke="#000" stroke-width="1.232"/>
<ellipse cx="440.2" cy="119.6" rx="1.0" ry="1.9" transform="rotate(10 440.2 119.6)" fill="#444" stroke="#000" stroke-width="0.6"/>
<path d="M 447 116 L 450.3 115.9 C 452.3 116.4, 453.3 118.3, 453.2 120.4 C 453.1 122.4, 452.2 124, 450.3 124.5 L 447 124.4 Z" fill="#fff" stroke="#000" stroke-width="1.12" stroke-linejoin="round" stroke-linecap="round" />
<path d="M 450.3 116 C 451.3 118.5, 451.3 122, 450.3 124.4" fill="none" stroke="#000" stroke-width="0.6" stroke-linejoin="round" stroke-linecap="round" />
<ellipse cx="447" cy="120.2" rx="3.2" ry="4.2" transform="rotate(0 447 120.2)" fill="#fff" stroke="#000" stroke-width="1.232"/>
<ellipse cx="447.3" cy="120.3" rx="1.3" ry="1.8" transform="rotate(0 447.3 120.3)" fill="#444" stroke="#000" stroke-width="0.6"/>
<path d="M 430.5 252.5 C 430 248, 430.2 243, 430.5 239.5 C 431 236.5, 433.5 235, 436.5 235.1 C 439.5 235.2, 442 237.2, 442.5 240.7 C 442.8 244, 441.5 249, 440.3 253.5 C 438 255.5, 433 255.5, 430.5 252.5 Z" fill="#fff" stroke="#000" stroke-width="1.12" stroke-linejoin="round" stroke-linecap="round" />
<path d="M 433.1 237.7 C 432.7 243, 433 249, 433.9 254.2" fill="none" stroke="#000" stroke-width="0.6" stroke-linejoin="round" stroke-linecap="round" />
<ellipse cx="437.4" cy="242.2" rx="1.9" ry="2.8" transform="rotate(0 437.4 242.2)" fill="#888" stroke="#000" stroke-width="0.9"/>
<path d="M 432 255 L 440.6 255 L 440.4 267 L 432.3 267 Z" fill="#fff" stroke="#000" stroke-width="1.12" stroke-linejoin="round" stroke-linecap="round" />
<path d="M 432.2 256.5 L 440.5 256.5" fill="none" stroke="#000" stroke-width="0.6" stroke-linejoin="round" stroke-linecap="round" />
<path d="M 434.9 267 L 433.9 314.3 M 437.5 267 L 436.5 314.3" fill="none" stroke="#000" stroke-width="0.85" stroke-linejoin="round" stroke-linecap="round" />
<path d="M 431 314.3 L 438.7 314.3 L 438.5 322.3 L 431.2 322.3 Z" fill="#fff" stroke="#000" stroke-width="1.12" stroke-linejoin="round" stroke-linecap="round" />
<path d="M 431.2 322.3 L 438.8 322.3 C 440 325, 440.3 328, 440 332 C 439.5 336.5, 437.5 340.3, 434.7 340.3 C 432 340.3, 430 337.5, 430 333.5 C 430 329.5, 430.5 325.5, 431.2 322.3 Z" fill="#fff" stroke="#000" stroke-width="1.12" stroke-linejoin="round" stroke-linecap="round" />
<ellipse cx="436" cy="334.6" rx="1.7" ry="2.6" transform="rotate(10 436 334.6)" fill="#888" stroke="#000" stroke-width="0.9"/>
<path d="M 432 324 C 431.7 329, 431.5 334, 432.3 338.5" fill="none" stroke="#000" stroke-width="0.5" stroke-linejoin="round" stroke-linecap="round" />
<ellipse cx="446.9" cy="339.2" rx="5.0" ry="6.2" transform="rotate(10 446.9 339.2)" fill="#fff" stroke="#000" stroke-width="1.344"/>
<ellipse cx="446.8" cy="339.4" rx="1.8" ry="2.9" transform="rotate(15 446.8 339.4)" fill="#fff" stroke="#000" stroke-width="1.12"/>
<path d="M 454.4 339.4 L 457.2 338.8 L 458.6 339.4 C 459 338, 460.5 337.2, 462 337.2 C 463.5 337.3, 464.3 338.2, 464.4 340 L 464.4 347.2 L 463.6 348.8 L 459.2 350.4 L 454.4 350.4 Z" fill="#fff" stroke="#000" stroke-width="1.12" stroke-linejoin="round" stroke-linecap="round" />
<path d="M 454.8 339.8 L 457.2 339.2 L 457.4 350 L 454.8 350 Z" fill="#9a9a9a" stroke="none"/>
<path d="M 457.3 339.2 L 457.4 350.2" fill="none" stroke="#000" stroke-width="0.6" stroke-linejoin="round" stroke-linecap="round" />
<path d="M 459.8 339.3 L 459.8 345.4" fill="none" stroke="#000" stroke-width="1.68" stroke-linejoin="round" stroke-linecap="round" />
<path d="M 457.4 349.6 L 463.6 348.2" fill="none" stroke="#000" stroke-width="0.5" stroke-linejoin="round" stroke-linecap="round" />
<path d="M 350.5 356.5 C 351.5 353.5, 352.5 351.5, 354.2 350.1 C 356 348.5, 358 347.3, 360.6 346.4 C 363 345.2, 365.5 344.3, 367.9 344.1 C 370 344, 372.5 344.3, 374.4 345 C 377 346, 379 347.5, 380.8 349.2 C 382.5 351, 384.2 353.3, 385.4 355.6 C 386.8 358, 387.8 360.5, 388.1 362.9 C 388.4 365, 388.4 367.5, 388.1 369.4 C 387.8 371, 387.2 372, 386.3 373 L 383.5 376.7 L 380.8 379.4 L 379.9 382.2 L 379 386.8 L 376.2 388.6 L 371.6 387.7 L 369.8 385 L 367.9 380.4 L 363.3 382.2 L 357.8 380.4 L 356.9 378.5 L 356 374.9 C 354.5 373, 353 371.5, 352.3 369.4 C 351.2 367, 350.6 365, 350.5 362.9 Z" fill="#fff" stroke="#000" stroke-width="1.232" stroke-linejoin="round" stroke-linecap="round" />
<path d="M 353.3 354.7 C 354.5 353.5, 355.5 353, 356.9 352.8 C 358.5 352.8, 360 353.2, 361.5 353.8 C 363 354.6, 364.8 355.4, 366.1 356.5 C 367.8 358, 369.3 359.5, 370.7 361.1 C 372 363, 373.5 365.2, 374.4 367.5 C 375.3 369.5, 376 372, 376.2 374 L 376.2 377" fill="none" stroke="#000" stroke-width="0.9" stroke-linejoin="round" stroke-linecap="round" />
<path d="M 353.3 354.7 C 352.5 357, 352.2 359, 352.3 361.1 C 352.6 363.5, 353.3 365.5, 354.2 367.5 C 355.5 369.8, 357 371.5, 358.8 373 C 360.3 374, 361.8 374.6, 363.3 374.9" fill="none" stroke="#000" stroke-width="0.8" stroke-linejoin="round" stroke-linecap="round" />
<path d="M 361.5 358.3 C 362 360, 362.5 362, 363.3 363.9 C 364.5 365.5, 365.8 367, 367 368.4 C 368 369.5, 369 370.3, 369.8 371.2 L 369.8 374" fill="none" stroke="#000" stroke-width="0.8" stroke-linejoin="round" stroke-linecap="round" />
<path d="M 353.5 353.3 C 356 352.5, 359 352.6, 361.8 353.8 L 361.3 356.2 C 358.5 355.2, 356 355.2, 353.8 356 Z" fill="#000" stroke="none"/>
<path d="M 356.9 378.5 L 360 377 L 363.3 377.5 L 367.9 376.7 L 367.9 380.4" fill="none" stroke="#000" stroke-width="0.7" stroke-linejoin="round" stroke-linecap="round" />
<path d="M 367.9 380.4 L 372.5 381.3 L 379 378.5" fill="none" stroke="#000" stroke-width="0.7" stroke-linejoin="round" stroke-linecap="round" />
<path d="M 369.8 385 L 373 383 L 378 382.5 L 379.9 382.2" fill="none" stroke="#000" stroke-width="0.6" stroke-linejoin="round" stroke-linecap="round" />
<path d="M 376.2 377 L 378 379.4" fill="none" stroke="#000" stroke-width="0.6" stroke-linejoin="round" stroke-linecap="round" />
<path d="M 384 371 C 385.5 369, 386.5 367, 387 365" fill="none" stroke="#000" stroke-width="1.456" stroke-linejoin="round" stroke-linecap="round" />
<ellipse cx="339.4" cy="384.7" rx="17.4" ry="11.8" transform="rotate(52 339.4 384.7)" fill="#fff" stroke="#000" stroke-width="1.344"/>
<path d="M 333.4 376.4 C 336 377, 338 378, 339.7 379.2 C 341.5 380.8, 342.7 382.3, 343.5 384.2 C 344.6 386.5, 345.4 388.5, 345.4 390.3 C 345.4 392, 345 393.5, 344.2 394.7 L 342.2 397.8 C 345 398.8, 348.5 399.5, 351 398 C 353 396, 353.3 392.5, 352.6 389 C 351.5 384, 348.5 378.5, 344 374 C 340.5 371, 336.5 370.2, 333 371 Z" fill="#ececec" stroke="none"/>
<path d="M 328.1 377.3 C 330 376.2, 331.5 376, 333.4 376.4 C 336 377, 338 378, 339.7 379.2 C 341.5 380.8, 342.7 382.3, 343.5 384.2 C 344.6 386.5, 345.4 388.5, 345.4 390.3 C 345.4 392, 345 393.5, 344.2 394.7 C 343.5 396, 343 397, 342.2 397.8" fill="none" stroke="#000" stroke-width="1.12" stroke-linejoin="round" stroke-linecap="round" />
<path d="M 331.5 377.6 C 331.6 379, 331.8 380.5, 332.4 381.7 C 333.2 383.6, 334.2 385.2, 335.3 386.7 C 336.5 388.5, 337.8 390, 339 391.3 C 340.5 392.6, 342 393.6, 343.5 394.4" fill="none" stroke="#000" stroke-width="0.8" stroke-linejoin="round" stroke-linecap="round" />
<path d="M 327.6 378.2 C 328.5 376.2, 330.5 375.6, 333 376 L 332.6 377.9 C 331 377.6, 329.5 378, 328.4 379.3 Z" fill="#000" stroke="none"/>
<path d="M 339 370 C 342.5 371.5, 345.5 373.8, 347.3 376.4 C 349.5 379, 351 381.5, 351.7 384 C 352.3 386, 352.5 388.5, 352.4 390.3" fill="none" stroke="#000" stroke-width="0.6" stroke-linejoin="round" stroke-linecap="round" />
<path d="M 309.9 349.75 L 326.7 358.4 L 324.5 361.7 L 308.3 353.5 Z" fill="#fff" stroke="#000" stroke-width="1.12" stroke-linejoin="round" stroke-linecap="round" />
<path d="M 317.225 353.325 L 315.625 356.825" fill="none" stroke="#000" stroke-width="0.5" stroke-linejoin="round" stroke-linecap="round" />
<path d="M 318.875 354.175 L 317.275 357.675" fill="none" stroke="#000" stroke-width="0.5" stroke-linejoin="round" stroke-linecap="round" />
<path d="M 320.52500000000003 355.025 L 318.925 358.525" fill="none" stroke="#000" stroke-width="0.5" stroke-linejoin="round" stroke-linecap="round" />
<path d="M 322.175 355.875 L 320.575 359.375" fill="none" stroke="#000" stroke-width="0.5" stroke-linejoin="round" stroke-linecap="round" />
<path d="M 323.825 356.725 L 322.22499999999997 360.225" fill="none" stroke="#000" stroke-width="0.5" stroke-linejoin="round" stroke-linecap="round" />
<polygon points="309.73,351.70 306.36,354.53 302.23,353.03 301.47,348.70 304.84,345.87 308.97,347.37" fill="#fff" stroke="#000" stroke-width="1" stroke-linejoin="round"/>
<path d="M 303 348 L 306 350.5 L 309 349" fill="none" stroke="#000" stroke-width="0.5" stroke-linejoin="round" stroke-linecap="round" />
<ellipse cx="331" cy="362.2" rx="3.6" ry="4.7" transform="rotate(20 331 362.2)" fill="#fff" stroke="#000" stroke-width="1.12"/>
<ellipse cx="331" cy="362.3" rx="1.4" ry="2.2" transform="rotate(20 331 362.3)" fill="#fff" stroke="#000" stroke-width="0.8"/>
<ellipse cx="384" cy="390.75" rx="3.6" ry="4.7" transform="rotate(20 384 390.75)" fill="#fff" stroke="#000" stroke-width="1.232"/>
<ellipse cx="384.4" cy="391" rx="1.0" ry="2.0" transform="rotate(20 384.4 391)" fill="#444" stroke="#000" stroke-width="0.6"/>
<polygon points="396.64,396.15 393.39,399.57 388.95,398.32 387.76,393.65 391.01,390.23 395.45,391.48" fill="#fff" stroke="#000" stroke-width="1" stroke-linejoin="round"/>
<path d="M 394 391 L 396.5 392.5 L 396.8 397 L 394.5 399.3 L 392.5 398.5 L 393.2 395 Z" fill="#555" stroke="none"/>
<ellipse cx="391.2" cy="394.6" rx="2.2" ry="2.6" transform="rotate(0 391.2 394.6)" fill="#fff" stroke="#000" stroke-width="0.7"/>
<ellipse cx="121.6" cy="421.1" rx="4.7" ry="4.4" transform="rotate(0 121.6 421.1)" fill="#fff" stroke="#000" stroke-width="1.12"/>
<ellipse cx="121.6" cy="421.1" rx="1.8" ry="1.5" transform="rotate(0 121.6 421.1)" fill="#fff" stroke="#000" stroke-width="0.8"/>
<ellipse cx="126" cy="431" rx="5.0" ry="5.6" transform="rotate(-20 126 431)" fill="#fff" stroke="#000" stroke-width="1.232"/>
<polygon points="129.60,430.00 127.80,433.12 124.20,433.12 122.40,430.00 124.20,426.88 127.80,426.88" fill="#fff" stroke="#000" stroke-width="1" stroke-linejoin="round"/>
<ellipse cx="127.3" cy="433.5" rx="2" ry="1.6" transform="rotate(0 127.3 433.5)" fill="#fff" stroke="#000" stroke-width="0.7"/>
<path d="M 221 431.3 C 221.5 429.5, 223 428.8, 224.5 428.8 C 227 428.5, 230.5 430, 232.1 433.7 C 232.8 435.5, 232.7 437, 232.7 438.3 C 233.5 440, 234 440.5, 235 441.25 L 246.7 447.1 L 252.5 449.4 L 258.3 452.3 C 260 453.5, 261.3 455.5, 261.25 457 C 261 459.5, 260.5 461, 259.5 461.7 C 258.5 462.3, 257 462.3, 256 462.25 L 251.3 459.9 L 238.5 452.3 L 230.3 446.5 C 227 444, 225.5 442, 224.5 440.7 L 221 436 C 220.5 434.5, 220.5 433, 221 431.3 Z" fill="#fff" stroke="#000" stroke-width="1.232" stroke-linejoin="round" stroke-linecap="round" />
<path d="M 233.25 439.5 C 238 443, 242 446, 246.7 448.25 L 252.5 450.5" fill="none" stroke="#000" stroke-width="0.6" stroke-linejoin="round" stroke-linecap="round" />
<ellipse cx="226.6" cy="435.2" rx="1.3" ry="1.6" transform="rotate(-20 226.6 435.2)" fill="#444" stroke="#000" stroke-width="0.7"/>
<ellipse cx="256.8" cy="457" rx="1.2" ry="1.5" transform="rotate(-20 256.8 457)" fill="#444" stroke="#000" stroke-width="0.7"/>
<path d="M 212.3 443.2 L 219.3 438.6 C 220.5 438, 221.3 439.8, 220.6 441.2 L 213.5 445.8 Z" fill="#fff" stroke="#000" stroke-width="0.9" stroke-linejoin="round" stroke-linecap="round" />
<path d="M 214.8 442.3 L 215.8 444.5 M 216.4 441.3 L 217.4 443.5 M 218 440.2 L 219 442.4" fill="none" stroke="#000" stroke-width="0.5" stroke-linejoin="round" stroke-linecap="round" />
<path d="M 206.2 443.5 L 208 441.8 L 211.5 441.8 L 213.3 444 L 213.3 448.5 L 211.5 450.9 L 208 450.9 L 205.6 449 L 205.4 445.5 Z" fill="#fff" stroke="#000" stroke-width="1.12" stroke-linejoin="round" stroke-linecap="round" />
<path d="M 206.5 444.5 C 207.5 443.6, 209.5 443.6, 210.5 444.5 C 211.2 445.8, 211.2 448, 210.5 449.5 C 209.5 450.5, 207.5 450.5, 206.5 449.5" fill="none" stroke="#000" stroke-width="0.6" stroke-linejoin="round" stroke-linecap="round" />
<path d="M 236.5 423 C 238.5 421, 242.5 420.8, 244.5 422.8 C 246 424.5, 246 428.5, 244.5 430.2 C 243 431.5, 240 431.8, 238.5 431" fill="#fff" stroke="#000" stroke-width="1.12" stroke-linejoin="round" stroke-linecap="round" />
<ellipse cx="238.8" cy="426.6" rx="3.6" ry="4.7" transform="rotate(-10 238.8 426.6)" fill="#fff" stroke="#000" stroke-width="1.232"/>
<ellipse cx="239.2" cy="426.3" rx="1.4" ry="1.8" transform="rotate(-10 239.2 426.3)" fill="#333" stroke="#000" stroke-width="0.6"/>
<text transform="translate(195.50 333.94) scale(1.17 1)" class="lb">1</text>
<text transform="translate(135.50 281.24) scale(1.17 1)" class="lb">2</text>
<text transform="translate(155.60 439.54) scale(1.17 1)" class="lb">3</text>
<text transform="translate(117.80 396.64) scale(1.17 1)" class="lb">4</text>
<text transform="translate(285.90 443.24) scale(1.17 1)" class="lb">5</text>
<text transform="translate(187.30 456.24) scale(1.17 1)" class="lb">6</text>
<text transform="translate(261.00 413.94) scale(1.17 1)" class="lb">7</text>
<text transform="translate(259.50 269.44) scale(1.17 1)" class="lb">8</text>
<text transform="translate(393.40 334.44) scale(1.17 1)" class="lb">9</text>
<text transform="translate(316.40 416.44) scale(1.17 1)" class="lb">10</text>
<text transform="translate(324.40 335.44) scale(1.17 1)" class="lb">11</text>
<text transform="translate(370.00 417.44) scale(1.17 1)" class="lb">12</text>
<text transform="translate(398.00 431.04) scale(1.17 1)" class="lb">13</text>
<text transform="translate(425.50 365.24) scale(1.17 1)" class="lb">14</text>
<text transform="translate(457.10 381.74) scale(1.17 1)" class="lb">15</text>
<text transform="translate(455.50 309.44) scale(1.17 1)" class="lb">16</text>
<text transform="translate(289.50 192.84) scale(1.17 1)" class="lb">17</text>
<text transform="translate(273.90 149.94) scale(1.17 1)" class="lb">18</text>
<text transform="translate(261.90 134.04) scale(1.17 1)" class="lb">19</text>
<text transform="translate(253.50 115.44) scale(1.17 1)" class="lb">20</text>
<text transform="translate(442.00 73.94) scale(1.17 1)" class="lb">21</text>
<text transform="translate(378.30 87.44) scale(1.17 1)" class="lb">22</text>
<text transform="translate(461.00 100.44) scale(1.17 1)" class="lb">23</text>
<text transform="translate(460.30 150.44) scale(1.17 1)" class="lb">24</text>
<text x="430" y="474.4" class="mono" textLength="31" lengthAdjust="spacingAndGlyphs">VS.4636</text>
<text x="430.9" y="556.4" class="cp" style="font-size:9.3px;fill:#111;stroke:#111;stroke-width:0.25" textLength="33" lengthAdjust="spacingAndGlyphs">MF4636</text>
<text x="216" y="575.9" class="cp" textLength="166.5" lengthAdjust="spacingAndGlyphs">© Copyright, 2016. Jaguar Land Rover Limited.</text>
</svg>
</body></html>
